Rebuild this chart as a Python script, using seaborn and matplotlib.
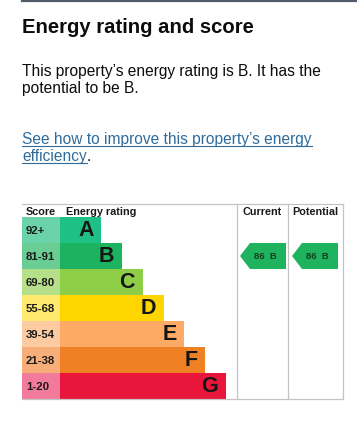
import matplotlib
matplotlib.use("Agg")
import matplotlib.pyplot as plt
import seaborn as sns
import pandas as pd
from matplotlib.patches import Polygon
from matplotlib.lines import Line2D

# ---- data ----
bands = ["A", "B", "C", "D", "E", "F", "G"]
score_ranges = ["92+", "81-91", "69-80", "55-68", "39-54", "21-38", "1-20"]
bar_lengths = [2, 3, 4, 5, 6, 7, 8]
bar_colors = ["#1ec085", "#1bb35f", "#8dce46", "#ffd500", "#fcaa65", "#ef8023", "#e9153b"]
score_colors = ["#6ad3aa", "#6acd94", "#b6df8a", "#ffe96e", "#fdcba2", "#f7ae78", "#f27a9a"]
current_score, current_band = 86, "B"
potential_score, potential_band = 86, "B"
headers = ["Score", "Energy rating", "Current", "Potential"]
title = "Energy rating and score"
summary = ["This property\u2019s energy rating is B. It has the", "potential to be B."]
link_lines = ["See how to improve this property\u2019s energy", "efficiency"]

W, H = 357, 423
plt.rcParams["font.family"] = ["Liberation Sans", "DejaVu Sans"]
fig = plt.figure(figsize=(W / 100, H / 100), dpi=100)
fig.patch.set_facecolor("white")

def fx(px):
    return px / W

def fy(py):
    return 1 - py / H

# top rule
fig.add_artist(Line2D([fx(22), fx(357)], [fy(1), fy(1)], color="#505d68", lw=1.6))

# heading + text
fs_body = 11.2
fig.text(fx(22), fy(33), title, fontsize=14.6, fontweight="bold", color="#0b0c0c", va="baseline")
fig.text(fx(22), fy(76), summary[0], fontsize=fs_body, color="#0b0c0c", va="baseline")
fig.text(fx(22), fy(92.5), summary[1], fontsize=fs_body, color="#0b0c0c", va="baseline")
link_col = "#2f6c9c"
t1 = fig.text(fx(22), fy(144), link_lines[0], fontsize=fs_body, color=link_col, va="baseline")
t2 = fig.text(fx(22), fy(161), link_lines[1], fontsize=fs_body, color=link_col, va="baseline")
fig.canvas.draw()
r = fig.canvas.get_renderer()
for t, base in [(t1, 144), (t2, 161)]:
    bb = t.get_window_extent(r)
    fig.add_artist(Line2D([bb.x0 / W, bb.x1 / W], [fy(base + 2), fy(base + 2)],
                          color=link_col, lw=0.8))
bb2 = t2.get_window_extent(r)
fig.text(bb2.x1 / W, fy(161), ".", fontsize=fs_body, color="#0b0c0c", va="baseline")

# ---- chart axes ----
u = 20.75  # px per unit
left_px, right_px, top_px, bot_px = 22, 343, 217, 399
ax = fig.add_axes([fx(left_px), 1 - bot_px / H, (right_px - left_px) / W, (bot_px - top_px) / H])
df = pd.DataFrame({"band": bands, "length": bar_lengths})
sns.barplot(data=df, x="length", y="band", hue="band", palette=bar_colors, legend=False,
            width=1.0, saturation=1, orient="h", ax=ax, linewidth=0)
x0 = -(60 - left_px) / u
ax.barh(range(len(bands)), -x0, left=x0, height=1.0, color=score_colors, linewidth=0)
ax.set_xlim(x0, (right_px - 60) / u)
ax.set_ylim(len(bands) - 0.5, -0.5)
ax.axis("off")

for i, (b, L, s) in enumerate(zip(bands, bar_lengths, score_ranges)):
    ax.text(L - 0.38, i + 0.03, b, ha="right", va="center", fontsize=15.5, fontweight="bold", color="#161616")
    ax.text(x0 + 4 / u, i + 0.03, s, ha="left", va="center", fontsize=8.2, fontweight="bold", color="#1a1a1a")

# grid lines
col1 = (237 - 60) / u
col2 = (288 - 60) / u
col3 = (343 - 60) / u
lc = "#c4c4c4"
for xv in (col1, col2, col3):
    ax.plot([xv, xv], [-1.0, len(bands) - 0.5], color=lc, lw=0.9, clip_on=False)
ax.plot([x0, col3], [-1.0, -1.0], color=lc, lw=0.9, clip_on=False)
ax.plot([x0, col3], [len(bands) - 0.5, len(bands) - 0.5], color=lc, lw=0.9, clip_on=False)

# headers
hy = -0.58
fs_h = 7.8
ax.text(x0 + 4 / u, hy, headers[0], fontsize=fs_h, fontweight="bold", va="baseline", color="#1a1a1a")
ax.text((66 - 60) / u, hy, headers[1], fontsize=fs_h, fontweight="bold", va="baseline", color="#1a1a1a")
ax.text((col1 + col2) / 2, hy, headers[2], fontsize=fs_h, fontweight="bold", va="baseline", ha="center", color="#1a1a1a")
ax.text((col2 + col3) / 2, hy, headers[3], fontsize=fs_h, fontweight="bold", va="baseline", ha="center", color="#1a1a1a")

# arrows
arrow_col = "#1fb35f"
for score, band, tip_px in [(current_score, current_band, 240), (potential_score, potential_band, 292)]:
    row = bands.index(band)
    tip = (tip_px - 60) / u
    flat = tip + 10 / u
    right = tip + 46 / u
    poly = Polygon([(tip, row), (flat, row - 0.5), (right, row - 0.5), (right, row + 0.5), (flat, row + 0.5)],
                   closed=True, facecolor=arrow_col, edgecolor="none", clip_on=False)
    ax.add_patch(poly)
    ax.text((flat + right) / 2 - 0.12, row + 0.03, f"{score}  {band}", ha="center", va="center",
            fontsize=6.8, fontweight="bold", color="#143d22")

fig.savefig("out.png", dpi=100, facecolor="white")
